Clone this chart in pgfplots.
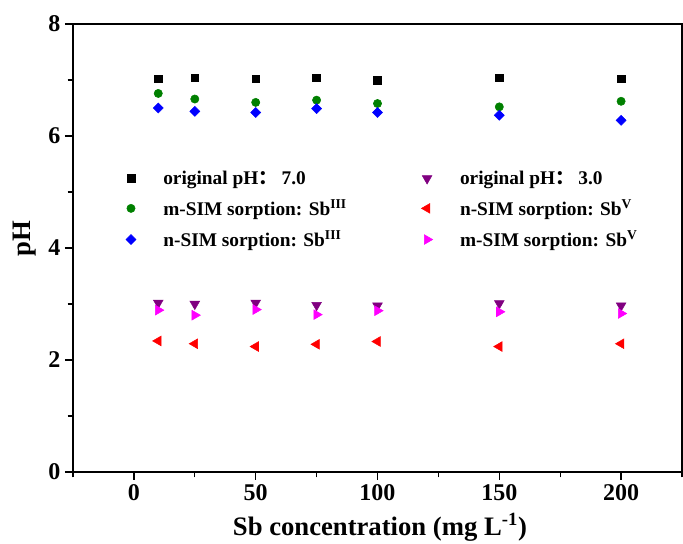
\documentclass[border=0pt]{standalone}
\usepackage{fontspec}
\setmainfont{Liberation Serif}
\newfontfamily\cjk{Noto Sans CJK SC}
\usepackage{pgfplots}
\pgfplotsset{compat=1.18}
\usetikzlibrary{calc}
\definecolor{mgreen}{RGB}{0,128,0}
\definecolor{mpurple}{RGB}{128,0,128}
\definecolor{mmagenta}{RGB}{255,0,255}
\begin{document}
\begin{tikzpicture}
\begin{axis}[
  name=ax,
  scale only axis, width=456.75pt, height=336pt,
  xmin=-25, xmax=225, ymin=0, ymax=8,
  xtick={0,50,...,200}, ytick={0,2,...,8},
  minor xtick={-25,25,75,125,175,225}, minor ytick={1,3,5,7},
  tick align=outside, tick pos=left,
  major tick length=6pt, minor tick length=4pt,
  every tick/.style={black, line width=1pt},
  axis line style={line width=1.3pt},
  /pgf/number format/assume math mode=true,
  ticklabel style={font=\fontsize{18}{18}\selectfont\bfseries},
  xlabel={Sb concentration (mg L\textsuperscript{-1})},
  ylabel={pH},
  label style={font=\fontsize{20}{20}\selectfont\bfseries},
  xlabel style={at={(axis description cs:0.504,-0.123)}, anchor=center},
  ylabel style={at={(axis description cs:-0.079,0.52)}, anchor=center},
  legend columns=2,
  legend cell align=left,
  legend style={draw=none, fill=none, at={(0.08,0.685)}, anchor=north west,
    font=\fontsize{14.5}{14.5}\selectfont\bfseries, row sep=6pt,
    /tikz/every odd column/.append style={column sep=18.5pt},
    /tikz/every even column/.append style={column sep=54pt}},
  only marks,
]
\addplot[mark=square*, mark size=2.9pt, color=black] coordinates {
(10,7.02) (25,7.04) (50,7.02) (75,7.04) (100,7.00) (150,7.04) (200,7.02)};
\addlegendentry{original pH{\cjk ：}\hspace{3pt}7.0}
\addplot[mark=triangle*, mark size=4.2pt, color=mpurple, mark options={rotate=180}] coordinates {
(10,3.02) (25,3.00) (50,3.02) (75,2.98) (100,2.97) (150,3.01) (200,2.97)};
\addlegendentry{original pH{\cjk ：}\hspace{3pt}3.0}
\addplot[mark=*, mark size=3.1pt, color=mgreen] coordinates {
(10,6.76) (25,6.66) (50,6.60) (75,6.64) (100,6.58) (150,6.52) (200,6.62)};
\addlegendentry{m-SIM sorption: Sb\textsuperscript{III}}
\addplot[mark=triangle*, mark size=4.2pt, color=red, mark options={rotate=90}] coordinates {
(10,2.34) (25,2.29) (50,2.24) (75,2.28) (100,2.33) (150,2.24) (200,2.29)};
\addlegendentry{n-SIM sorption: Sb\textsuperscript{V}}
\addplot[mark=square*, mark size=2.65pt, color=blue, mark options={rotate=45}] coordinates {
(10,6.50) (25,6.44) (50,6.42) (75,6.49) (100,6.42) (150,6.37) (200,6.28)};
\addlegendentry{n-SIM sorption: Sb\textsuperscript{III}}
\addplot[mark=triangle*, mark size=4.2pt, color=mmagenta, mark options={rotate=-90}] coordinates {
(10,2.89) (25,2.80) (50,2.90) (75,2.81) (100,2.88) (150,2.86) (200,2.83)};
\addlegendentry{m-SIM sorption: Sb\textsuperscript{V}}
\end{axis}
\pgfresetboundingbox
\path[use as bounding box] ($(ax.south west)+(-54.75pt,-54pt)$) rectangle ($(ax.north east)+(0.75pt,18pt)$);
\end{tikzpicture}
\end{document}
